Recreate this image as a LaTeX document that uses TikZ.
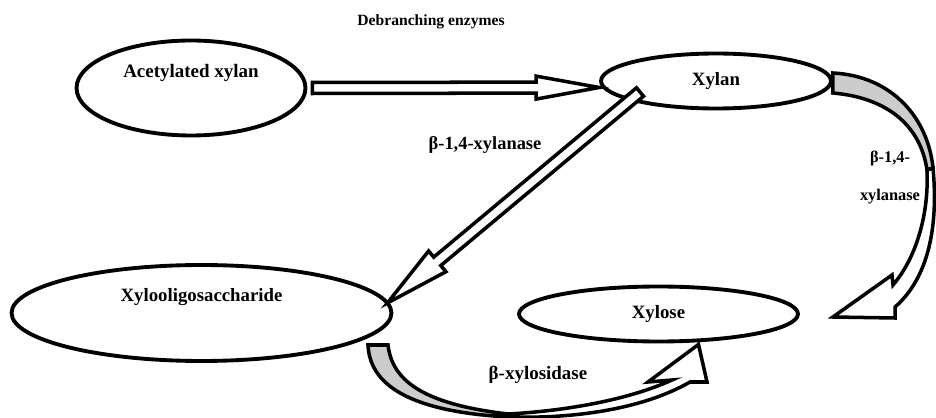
\documentclass[tikz,border=0pt]{standalone}
\usepackage{fontspec}
\setmainfont{Liberation Serif}
\usetikzlibrary{shapes,calc}
\tikzstyle{blob}=[ellipse,draw=black,line width=2.2pt,inner sep=0pt,font=\bfseries\fontsize{10.7}{12}\selectfont]
\tikzstyle{fat}=[draw=black,fill=white,line width=2pt,line join=miter]
\tikzstyle{back}=[fat,fill=black!20]
\tikzstyle{txt}=[font=\bfseries\fontsize{10.5}{12}\selectfont]
% block arrow: from, to, shaft half width, head half width, head length
\newcommand\fatarrow[5]{%
	\draw[fat] ($(#1)!#3!90:(#2)$) -- ($(#2)!#5!(#1)!#3!-90:(#1)$)
		-- ($(#2)!#5!(#1)!#4!-90:(#1)$) -- (#2)
		-- ($(#2)!#5!(#1)!#4!90:(#1)$) -- ($(#2)!#5!(#1)!#3!90:(#1)$)
		-- ($(#1)!#3!-90:(#2)$) -- cycle;}

\begin{document}
\begin{tikzpicture}[x=0.02cm,y=-0.02cm]
	\useasboundingbox (0,0) rectangle (936,418);
	% substrates and products
	\node[blob,minimum width=4.58cm,minimum height=1.9cm,
		label={[txt,font=\bfseries\fontsize{10.8}{12}\selectfont,yshift=0.3cm]center:Acetylated xylan}] (acx) at (191,88) {};
	\node[blob,minimum width=4.6cm,minimum height=1.1cm] (xyl) at (716,81) {Xylan};
	\node[blob,minimum width=7.6cm,minimum height=1.92cm,
		label={[txt,font=\bfseries\fontsize{10.7}{12}\selectfont,yshift=0.32cm]center:Xylooligosaccharide}] (xos) at (201.5,313) {};
	\node[blob,minimum width=5.58cm,minimum height=1.1cm] (xse) at (658.5,314) {Xylose};

	% straight arrows
	\coordinate (h0) at ($(acx.east)+(5,0)$);
	\coordinate (h1) at ($(xyl.west)+(0,6.5)$);
	\fatarrow{h0}{h1}{0.11cm}{0.23cm}{1.26cm}
	\coordinate (d0) at ($(xyl.center)+(-76,11)$);
	\coordinate (d1) at ($(xos.east)+(-6,-10)$);
	\fatarrow{d0}{d1}{0.11cm}{0.27cm}{1.3cm}

	% curved arrow xylan -> xylose
	\draw[back] ($(xyl.east)+(0,-8)$) .. controls (892,76) and (928,118) .. (933,168)
		-- (927,170) .. controls (921,128) and (890,98) .. ($(xyl.east)+(0,12)$) -- cycle;
	\draw[fat] (933,168) .. controls (939,232) and (926,280) .. (895,307) -- (895,318)
		-- ($(xse.east)+(33,3)$) -- (892,275) -- (893,285)
		.. controls (916,258) and (929,215) .. (927,170) -- cycle;

	% curved arrow xylooligosaccharide -> xylose
	\draw[back] (368,345) .. controls (370,390) and (420,412) .. (508,417)
		-- (508,414) .. controls (422,404) and (392,380) .. (388,345) -- cycle;
	\draw[fat] (508,417) .. controls (578,419) and (645,408) .. (690,382) -- (707,382)
		-- ($(xse.south)+(40,1)$) -- (648,382) -- (672,380)
		.. controls (628,400) and (565,411) .. (508,414) -- cycle;

	% enzymes
	\node[txt,font=\bfseries\fontsize{8.9}{10}\selectfont] (deb) at (431,22) {Debranching enzymes};
	\node[txt] (xna) at (485,145) {β-1,4-xylanase};
	\node[txt,font=\bfseries\fontsize{9.3}{11}\selectfont] (xnb) at (890,158) {β-1,4-};
	\node[txt,font=\bfseries\fontsize{9.3}{11}\selectfont] (xnc) at (890,197) {xylanase};
	\node[txt,font=\bfseries\fontsize{10.8}{12}\selectfont] (xsd) at (538,375) {β-xylosidase};
\end{tikzpicture}
\end{document}
